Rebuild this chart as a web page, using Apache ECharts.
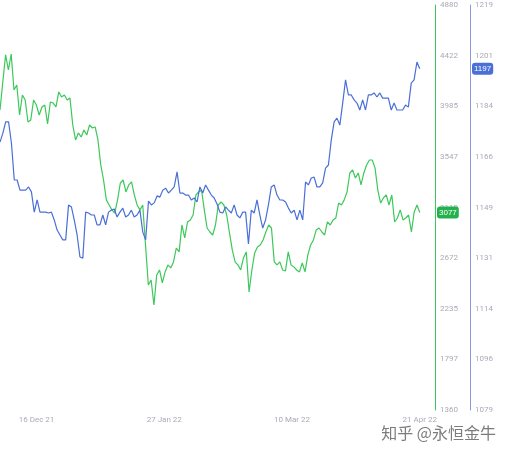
<!DOCTYPE html>
<html>
<head>
<meta charset="utf-8">
<script src="https://cdn.jsdelivr.net/npm/echarts@6/dist/echarts.min.js"></script>
<style>html,body{margin:0;padding:0;background:#fff}#main{width:506px;height:457px}</style>
</head>
<body>
<div id="main"></div>
<script>
var startDate = '2021-12-04'
var endDate = '2022-04-21'
var axisEnd = '2022-04-26'
var tickDates = ['2021-12-16', '2022-01-27', '2022-03-10', '2022-04-21']
var greenTicks = [1360, 1797, 2235, 2672, 3110, 3547, 3985, 4422, 4880]
var blueTicks = [1079, 1096, 1114, 1131, 1149, 1166, 1184, 1201, 1219]

// 绿色（左刻度 1360-4880）
var greenValues = [3968, 4211, 4446, 4315, 4454, 4141, 4185, 3924, 4098, 4054, 3863, 3881, 4054, 4011, 3924,
  3994, 4011, 3846, 4037, 4028, 3994, 4124, 4080, 4098, 4054, 4072, 3837, 3707, 3768, 3733, 3794, 3750,
  3837, 3811, 3820, 3707, 3490, 3359, 3186, 3142, 3099, 3072, 3186, 3333, 3359, 3255, 3316, 3342, 3229,
  3142, 3099, 3142, 2794, 2447, 2490, 2273, 2534, 2577, 2464, 2560, 2621, 2595, 2647, 2768, 2734, 2968,
  2855, 2994, 3012, 3055, 3229, 3255, 3272, 3099, 2942, 2907, 2881, 2968, 3142, 3168, 3142, 3055, 2899,
  2751, 2647, 2621, 2577, 2682, 2734, 2386, 2577, 2725, 2777, 2794, 2838, 2907, 2968, 2942, 2647, 2621,
  2647, 2577, 2569, 2734, 2621, 2604, 2577, 2560, 2638, 2560, 2708, 2794, 2838, 2925, 2942, 2907, 2881,
  2994, 2968, 3012, 3029, 3159, 3142, 3186, 3255, 3420, 3446, 3377, 3420, 3316, 3420, 3490, 3533, 3533,
  3464, 3272, 3159, 3203, 3229, 3142, 3229, 2994, 3029, 3099, 3012, 3029, 3055, 2907, 3081, 3142, 3077]
// 蓝色（右刻度 1079-1219）
var blueValues = [1171.6, 1174.7, 1178.6, 1178.6, 1171.3, 1158.5, 1158.5, 1155.0, 1155.0, 1155.0, 1156.1,
  1154.4, 1147.4, 1151.6, 1147.4, 1147.4, 1147.4, 1147.1, 1147.4, 1144.7, 1141.2, 1139.5, 1137.8, 1137.8,
  1149.9, 1149.2, 1144.7, 1139.5, 1131.9, 1131.5, 1147.4, 1147.1, 1146.4, 1146.4, 1143.0, 1143.0, 1146.4,
  1143.0, 1147.4, 1148.1, 1148.5, 1145.7, 1147.4, 1148.8, 1145.7, 1146.4, 1148.1, 1145.7, 1146.4, 1148.1,
  1140.5, 1137.8, 1151.2, 1149.9, 1150.6, 1153.0, 1152.6, 1155.0, 1155.7, 1154.0, 1155.0, 1156.1, 1161.3,
  1154.0, 1154.0, 1153.3, 1153.3, 1151.6, 1152.3, 1150.9, 1156.1, 1154.0, 1156.8, 1155.0, 1153.3, 1152.3,
  1150.2, 1147.4, 1147.1, 1149.2, 1148.1, 1147.1, 1149.9, 1146.4, 1145.4, 1147.4, 1147.4, 1136.4, 1148.1,
  1147.1, 1151.6, 1146.4, 1141.9, 1144.7, 1149.9, 1156.1, 1156.8, 1153.3, 1151.6, 1151.6, 1150.9, 1148.8,
  1147.1, 1148.1, 1144.7, 1148.1, 1144.7, 1157.8, 1156.8, 1159.2, 1159.5, 1156.1, 1156.1, 1157.5, 1162.6,
  1163.7, 1172.3, 1178.6, 1179.9, 1177.5, 1185.1, 1193.1, 1187.9, 1187.9, 1186.2, 1185.1, 1182.7, 1186.2,
  1182.7, 1187.9, 1187.9, 1188.6, 1187.2, 1188.6, 1186.8, 1186.8, 1186.8, 1182.7, 1185.1, 1182.7, 1182.7,
  1182.7, 1184.4, 1183.7, 1192.0, 1193.1, 1199.3, 1197]

var t0 = Date.parse(startDate + 'T00:00:00Z')
var t1 = Date.parse(endDate + 'T00:00:00Z')
// 采样点在起止日期之间均匀分布
function toSeries(arr) {
  return arr.map(function (v, i) {
    return [t0 + (t1 - t0) * i / (arr.length - 1), v]
  })
}
var months = ['Jan', 'Feb', 'Mar', 'Apr', 'May', 'Jun', 'Jul', 'Aug', 'Sep', 'Oct', 'Nov', 'Dec']

var green = '#3cc85a'
var blue = '#4a6fd6'
var labelStyle = { color: '#aaaab8', fontSize: 8, fontFamily: 'Roboto' }

var myChart = echarts.init(document.getElementById('main'))
var option = {
  animation: false,
  grid: { left: 0, right: 71, top: 5, bottom: 47 },
  xAxis: {
    type: 'time',
    min: t0,
    max: Date.parse(axisEnd + 'T00:00:00Z'),
    axisLine: { show: false },
    axisTick: { show: false },
    splitLine: { show: false },
    axisLabel: { show: false }
  },
  yAxis: [{
    type: 'value',
    position: 'right',
    min: greenTicks[0],
    max: greenTicks[greenTicks.length - 1],
    interval: (greenTicks[greenTicks.length - 1] - greenTicks[0]) / 8,
    splitLine: { show: false },
    axisLine: { show: true, lineStyle: { color: green, width: 1 } },
    axisTick: { show: false },
    axisLabel: Object.assign({
      margin: 5,
      formatter: function (v, i) { return greenTicks[i] }
    }, labelStyle),
    axisPointer: {
      show: true, value: 3077, status: 'show', triggerOn: 'none',
      lineStyle: { opacity: 0 },
      label: { backgroundColor: '#22b14c', color: '#fff', fontSize: 8, padding: [2, 2], margin: 2,
        formatter: '3077' }
    }
  }, {
    type: 'value',
    position: 'right',
    offset: 35,
    min: blueTicks[0],
    max: blueTicks[blueTicks.length - 1],
    interval: (blueTicks[blueTicks.length - 1] - blueTicks[0]) / 8,
    splitLine: { show: false },
    axisLine: { show: true, lineStyle: { color: '#8899dd', width: 1 } },
    axisTick: { show: false },
    axisLabel: Object.assign({
      margin: 5,
      formatter: function (v, i) { return blueTicks[i] }
    }, labelStyle),
    axisPointer: {
      show: true, value: 1197, status: 'show', triggerOn: 'none',
      lineStyle: { opacity: 0 },
      label: { backgroundColor: '#4a6fd6', color: '#fff', fontSize: 8, padding: [2, 2], margin: 2,
        formatter: '1197' }
    }
  }],
  series: [{
    type: 'line',
    yAxisIndex: 0,
    data: toSeries(greenValues),
    showSymbol: false,
    lineStyle: { color: green, width: 1.2 },
    itemStyle: { color: green }
  }, {
    type: 'line',
    yAxisIndex: 1,
    data: toSeries(blueValues),
    showSymbol: false,
    lineStyle: { color: blue, width: 1.2 },
    itemStyle: { color: blue },
    // 日期刻度文字
    markPoint: {
      symbol: 'rect', symbolSize: 0,
      label: Object.assign({ position: 'bottom', distance: 0 }, labelStyle),
      data: tickDates.map(function (d) {
        var p = d.split('-')
        return {
          coord: [Date.parse(d + 'T00:00:00Z'), blueTicks[0]],
          value: (+p[2]) + ' ' + months[+p[1] - 1] + ' ' + p[0].slice(2),
          label: { offset: [0, 6], formatter: '{c}' }
        }
      })
    }
  }],
  graphic: [{
    type: 'text',
    right: 10,
    top: 425,
    style: { text: '知乎 @永恒金牛', fontSize: 16, fill: 'rgba(80,80,80,0.75)',
      fontFamily: 'Noto Sans CJK SC' }
  }]
}
myChart.setOption(option)
window.addEventListener('resize', function () {
  myChart.resize()
})
</script>
</body>
</html>
